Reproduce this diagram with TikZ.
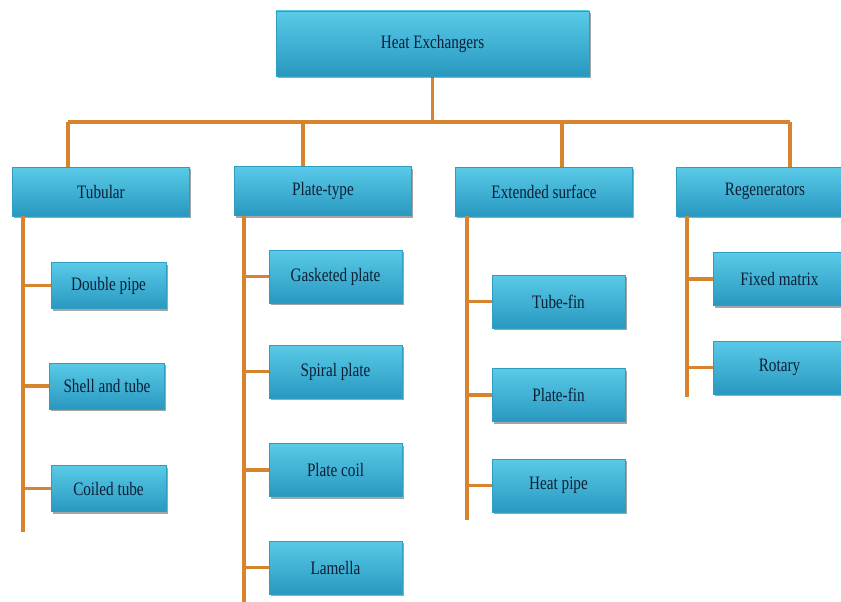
\documentclass[tikz,border=0pt]{standalone}
\usepackage{fontspec}
\setmainfont[FakeStretch=0.8]{Liberation Serif}
\usetikzlibrary{shadows}
\definecolor{boxtop}{HTML}{5ACAE8}
\definecolor{boxbot}{HTML}{2898C0}
\definecolor{boxedge}{HTML}{2F9CC2}
\definecolor{linec}{HTML}{D8832E}
\definecolor{txt}{HTML}{0C2036}
\tikzset{
  hbox/.style={rectangle, draw=boxedge, line width=0.4pt, top color=boxtop, bottom color=boxbot,
    text=txt, font=\fontsize{19}{21}\selectfont, inner sep=0pt,
    drop shadow={shadow xshift=1.8pt, shadow yshift=-2.2pt, opacity=0.5, fill=black!70}},
  topbox/.style={hbox, minimum width=313pt, minimum height=65pt},
  catbox/.style={hbox, minimum width=177pt, minimum height=49pt},
  tubbox/.style={hbox, minimum width=115pt, minimum height=46pt},
  kidbox/.style={hbox, minimum width=133pt, minimum height=53pt},
  conn/.style={draw=linec, line width=3.4pt, line cap=butt},
}
\begin{document}
\begin{tikzpicture}[x=1pt,y=-1pt]
\useasboundingbox (0,0) rectangle (841,602);
\clip (0,0) rectangle (841,602);
\fill[white] (0,0) rectangle (841,602);
% coordinates for connectors
\coordinate (barL) at (68,122);
\coordinate (barR) at (790,122);
\coordinate (dPlate) at (303,122);
\coordinate (dExt) at (562,122);
\coordinate (sTub) at (23,532);
\coordinate (sPlate) at (244,610);
\coordinate (sExt) at (467,520);
\coordinate (sReg) at (687,397);
% connectors (drawn first, boxes on top)
\draw[conn] (432.5,76) coordinate (topS) -- (topS |- barL);
\draw[conn] (barL) -- (barR);
\draw[conn] (barL) -- (68,167);
\draw[conn] (dPlate) -- (303,167);
\draw[conn] (dExt) -- (562,167);
\draw[conn] (barR) -- (790,167);
% nodes
\node[topbox] (he) at (432.5,43.5) {Heat Exchangers};
\node[catbox] (tub) at (101,191.5) {Tubular};
\node[catbox] (pla) at (323,191) {Plate-type};
\node[catbox] (ext) at (544,191.5) {Extended surface};
\node[catbox] (reg) at (765,191.5) {Regenerators};
\node[tubbox] (dp) at (108.5,285.5) {Double pipe};
\node[tubbox] (st) at (107,386) {Shell and tube};
\node[tubbox] (ct) at (108.5,488.5) {Coiled tube};
\node[kidbox] (gp) at (335.5,276.5) {Gasketed plate};
\node[kidbox] (sp) at (335.5,371.5) {Spiral plate};
\node[kidbox] (pc) at (335.5,470) {Plate coil};
\node[kidbox] (la) at (335.5,567.5) {Lamella};
\node[kidbox] (tf) at (558.5,301.5) {Tube-fin};
\node[kidbox] (pf) at (558.5,395) {Plate-fin};
\node[kidbox] (hp) at (558.5,485.5) {Heat pipe};
\node[kidbox] (fm) at (779.5,279) {Fixed matrix};
\node[kidbox] (ro) at (779.5,367.5) {Rotary};
% spines
\draw[conn] (tub.south -| sTub) -- (sTub);
\draw[conn] (pla.south -| sPlate) -- (sPlate);
\draw[conn] (ext.south -| sExt) -- (sExt);
\draw[conn] (reg.south -| sReg) -- (sReg);
% branches
\foreach \k in {dp,st,ct} \draw[conn] (sTub |- \k.west) -- (\k.west);
\foreach \k in {gp,sp,pc,la} \draw[conn] (sPlate |- \k.west) -- (\k.west);
\foreach \k in {tf,pf,hp} \draw[conn] (sExt |- \k.west) -- (\k.west);
\foreach \k in {fm,ro} \draw[conn] (sReg |- \k.west) -- (\k.west);
\end{tikzpicture}
\end{document}
